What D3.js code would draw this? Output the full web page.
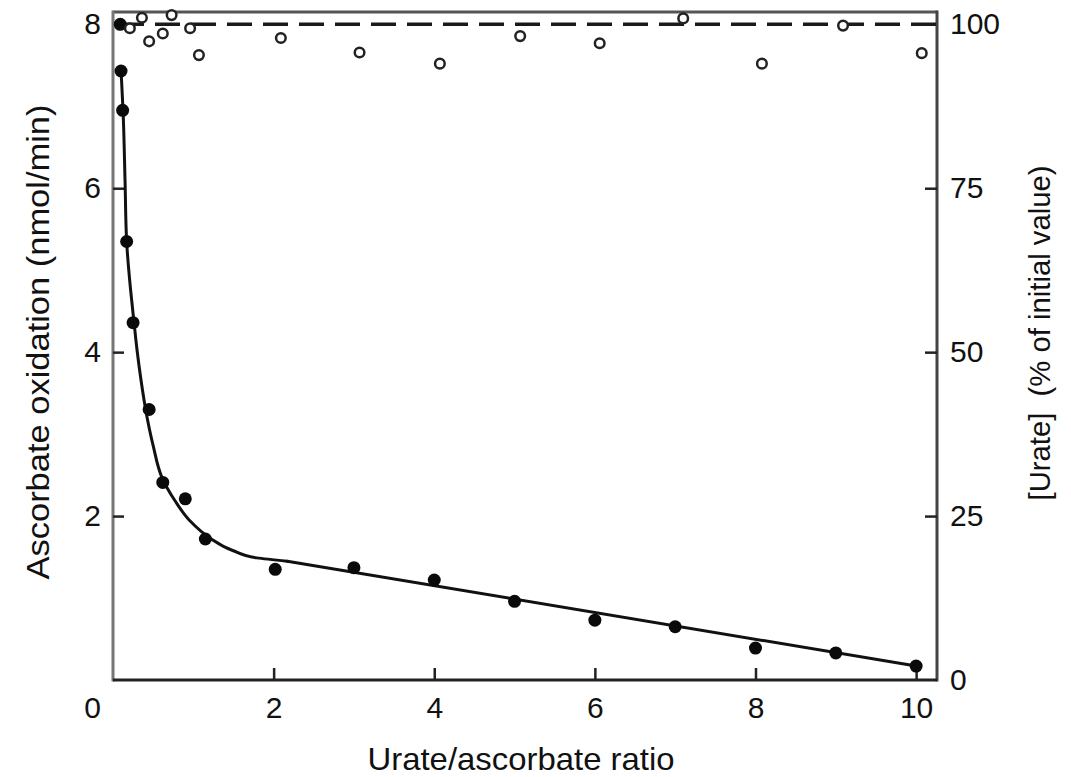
<!DOCTYPE html>
<html>
<head>
<meta charset="utf-8">
<script src="https://cdn.jsdelivr.net/npm/d3@7"></script>
<style>
  html, body { margin: 0; padding: 0; background: #fff; }
  svg { display: block; }
  text { font-family: "Liberation Sans", Arial, Helvetica, sans-serif; fill: #111; }
</style>
</head>
<body>
<svg id="chart" width="1071" height="777"></svg>
<script>
// ---- Data ----
// Ascorbate oxidation (nmol/min), filled circles
const ratioFilled = [0.09, 0.10, 0.12, 0.17, 0.25, 0.45, 0.62, 0.90, 1.15, 2.02, 3.0, 4.0, 5.0, 6.0, 7.0, 8.0, 9.0, 10.0];
const oxidation   = [8.00, 7.43, 6.95, 5.35, 4.36, 3.30, 2.41, 2.21, 1.72, 1.35, 1.37, 1.22, 0.96, 0.73, 0.65, 0.39, 0.33, 0.17];

// Fitted curve through the oxidation data (smooth part, then a straight segment)
const fitRatio = [0.10, 0.125, 0.15, 0.17, 0.22, 0.26, 0.30, 0.35, 0.41, 0.50, 0.61, 0.77, 0.96, 1.21, 1.49, 1.79, 2.17];
const fitOxid  = [7.44, 6.95, 6.09, 5.35, 4.75, 4.38, 4.02, 3.65, 3.28, 2.86, 2.47, 2.19, 1.94, 1.73, 1.58, 1.49, 1.45];
const lineRatio = [2.17, 10.0];
const lineOxid  = [1.45, 0.17];

// [Urate] (% of initial value), open circles
const ratioOpen = [0.21, 0.36, 0.45, 0.62, 0.73, 0.96, 1.07, 2.09, 3.07, 4.07, 5.07, 6.06, 7.10, 8.08, 9.09, 10.07];
const uratePct  = [99.4, 101.0, 97.4, 98.6, 101.4, 99.4, 95.3, 97.9, 95.7, 94.0, 98.2, 97.1, 100.9, 94.0, 99.8, 95.6];

// Reference (dashed) line at 100 %
const refLine = [100];

// Tick values
const xTicks = [0, 2, 4, 6, 8, 10];
const yLeftTicks = [2, 4, 6, 8];
const yRightTicks = [0, 25, 50, 75, 100];

const xTitle = "Urate/ascorbate ratio";
const yLeftTitle = "Ascorbate oxidation (nmol/min)";
const yRightTitle = "[Urate]  (% of initial value)";

// ---- Layout ----
const svg = d3.select("#chart");
const L = 113, R = 937, T = 12, B = 680;

const x = d3.scaleLinear().domain([0, 10.26]).range([L, R]);
const yL = d3.scaleLinear().domain([0, 8.15]).range([B, T]);
const yR = d3.scaleLinear().domain([0, 8.15 * 100 / 8]).range([B, T]);

// Frame
const frame = svg.append("g").attr("fill", "none").attr("stroke-width", 3);
frame.append("line").attr("x1", L).attr("x2", R).attr("y1", T).attr("y2", T).attr("stroke", "#555");
frame.append("line").attr("x1", L).attr("x2", L).attr("y1", T - 1.5).attr("y2", B + 1.5).attr("stroke", "#777");
frame.append("line").attr("x1", R).attr("x2", R).attr("y1", T - 1.5).attr("y2", B + 1.5).attr("stroke", "#444");
frame.append("line").attr("x1", L).attr("x2", R).attr("y1", B).attr("y2", B).attr("stroke", "#222");

// Axes
const fontSize = 30;
const gx = svg.append("g").attr("transform", `translate(0,${B})`)
  .call(d3.axisBottom(x).tickValues(xTicks).tickFormat(d3.format("d")).tickSize(-12).tickSizeOuter(0).tickPadding(17));
gx.selectAll(".tick text").attr("x", d => d === 0 ? -21 : 0);
gx.selectAll(".tick line").attr("stroke-width", 2.5).attr("opacity", d => (d === 0 ? 0 : 1));

const gyl = svg.append("g").attr("transform", `translate(${L},0)`)
  .call(d3.axisLeft(yL).tickValues(yLeftTicks).tickFormat(d3.format("d")).tickSize(-11).tickSizeOuter(0).tickPadding(12));
gyl.selectAll(".tick line").attr("stroke-width", 2.5).attr("opacity", d => (d === 8 ? 0 : 1));

const gyr = svg.append("g").attr("transform", `translate(${R},0)`)
  .call(d3.axisRight(yR).tickValues(yRightTicks).tickFormat(d3.format("d")).tickSize(-12).tickSizeOuter(0).tickPadding(13));
gyr.selectAll(".tick line").attr("stroke-width", 2.5).attr("opacity", d => (d === 0 || d === 100 ? 0 : 1));

[gx, gyl, gyr].forEach(g => {
  g.select(".domain").remove();
  g.selectAll(".tick line").attr("stroke", "#222");
  g.selectAll(".tick text").attr("font-size", fontSize)
    .attr("font-family", '"Liberation Sans", Arial, sans-serif').attr("fill", "#111");
});

// Dashed 100% line
svg.append("g").selectAll("line").data(refLine).join("line")
  .attr("x1", L + 6).attr("x2", R)
  .attr("y1", d => yR(d)).attr("y2", d => yR(d))
  .attr("stroke", "#1a1a1a").attr("stroke-width", 3.5)
  .attr("stroke-dasharray", "25,11");

// Fitted curve: smooth part + straight part
const fitData = fitRatio.map((r, i) => [r, fitOxid[i]]);
const lineData = lineRatio.map((r, i) => [r, lineOxid[i]]);
svg.append("path").datum(fitData)
  .attr("fill", "none").attr("stroke", "#111").attr("stroke-width", 3)
  .attr("stroke-linejoin", "round").attr("stroke-linecap", "round")
  .attr("d", d3.line().x(d => x(d[0])).y(d => yL(d[1])).curve(d3.curveMonotoneY));
svg.append("path").datum(lineData)
  .attr("fill", "none").attr("stroke", "#111").attr("stroke-width", 3)
  .attr("stroke-linecap", "round")
  .attr("d", d3.line().x(d => x(d[0])).y(d => yL(d[1])));

// Filled circles
svg.append("g").selectAll("circle").data(ratioFilled.map((r, i) => [r, oxidation[i]])).join("circle")
  .attr("cx", d => x(d[0])).attr("cy", d => yL(d[1])).attr("r", 6.5)
  .attr("fill", "#0a0a0a");

// Open circles
svg.append("g").selectAll("circle").data(ratioOpen.map((r, i) => [r, uratePct[i]])).join("circle")
  .attr("cx", d => x(d[0])).attr("cy", d => yR(d[1])).attr("r", 4.8)
  .attr("fill", "#fff").attr("stroke", "#222").attr("stroke-width", 2.5);

// Titles
svg.append("text").attr("x", 521).attr("y", 770).attr("text-anchor", "middle")
  .attr("font-size", 32).attr("textLength", 307).attr("lengthAdjust", "spacingAndGlyphs")
  .text(xTitle);

svg.append("text").attr("transform", "translate(49,342) rotate(-90)").attr("text-anchor", "middle")
  .attr("font-size", 31).attr("textLength", 475).attr("lengthAdjust", "spacingAndGlyphs")
  .text(yLeftTitle);

svg.append("text").attr("transform", "translate(1050,333) rotate(-90)").attr("text-anchor", "middle")
  .attr("font-size", 29).attr("textLength", 335).attr("lengthAdjust", "spacingAndGlyphs")
  .style("white-space", "pre")
  .text(yRightTitle);
</script>
</body>
</html>
